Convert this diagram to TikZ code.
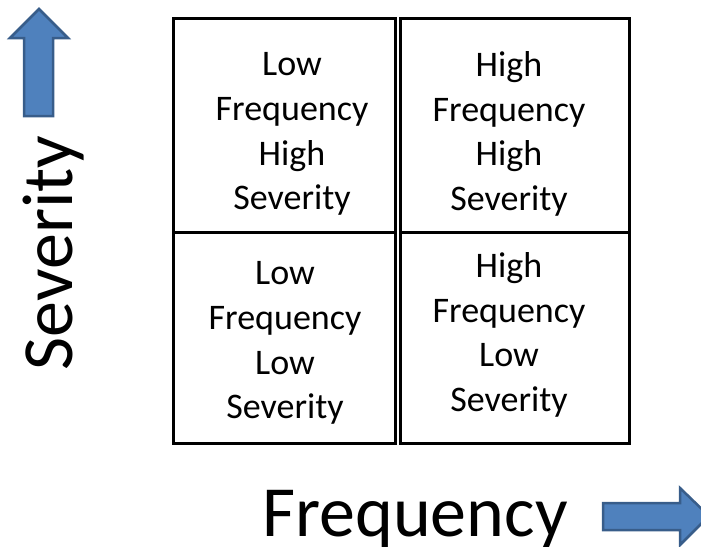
\documentclass[tikz,border=0pt]{standalone}
\usepackage{fontspec}
\setmainfont{Carlito}
\definecolor{arrowfill}{HTML}{4F81BD}
\definecolor{arrowline}{HTML}{385D8A}

\begin{document}
\begin{tikzpicture}[x=1pt,y=-1pt]
    \tikzstyle{cell} = [rectangle,draw=black,line width=3pt,anchor=north west,inner sep=0pt,outer sep=0pt]
    \tikzstyle{celltext} = [align=center,font=\fontsize{36}{44.7}\selectfont]
    \tikzstyle{axistext} = [anchor=base,font=\fontsize{72}{86}\selectfont]
    \tikzstyle{blockarrow} = [draw=arrowline,fill=arrowfill,line width=2.5pt,line join=miter]
    \useasboundingbox (0,0) rectangle (701,546);
    % the four cells
    \node (lowhigh)[cell,minimum width=222pt,minimum height=214pt] at (173,18) {};
    \node (highhigh)[cell,minimum width=229pt,minimum height=214pt] at (400,18) {};
    \node (lowlow)[cell,minimum width=222pt,minimum height=211pt] at (173,232) {};
    \node (highlow)[cell,minimum width=229pt,minimum height=211pt] at (400,232) {};
    \node (lowhightext)[celltext] at (292,134) {Low\\Frequency\\High\\Severity};
    \node (highhightext)[celltext] at (509,134) {High\\Frequency\\High\\Severity};
    \node (lowlowtext)[celltext] at (285,343) {Low\\Frequency\\Low\\Severity};
    \node (highlowtext)[celltext] at (509,335) {High\\Frequency\\Low\\Severity};
    % axes
    \node (severity)[axistext,rotate=90] at (72,253) {Severity};
    \node (frequency)[axistext] at (415,536) {Frequency};
    \draw [blockarrow] (24,116) -- (24,38) -- (10,38) -- (39,9) -- (68,38) -- (53,38) -- (53,116) -- cycle;
    \draw [blockarrow] (603,503) -- (680,503) -- (680,488) -- (709,516) -- (680,545) -- (680,530) -- (603,530) -- cycle;
\end{tikzpicture}
\end{document}
